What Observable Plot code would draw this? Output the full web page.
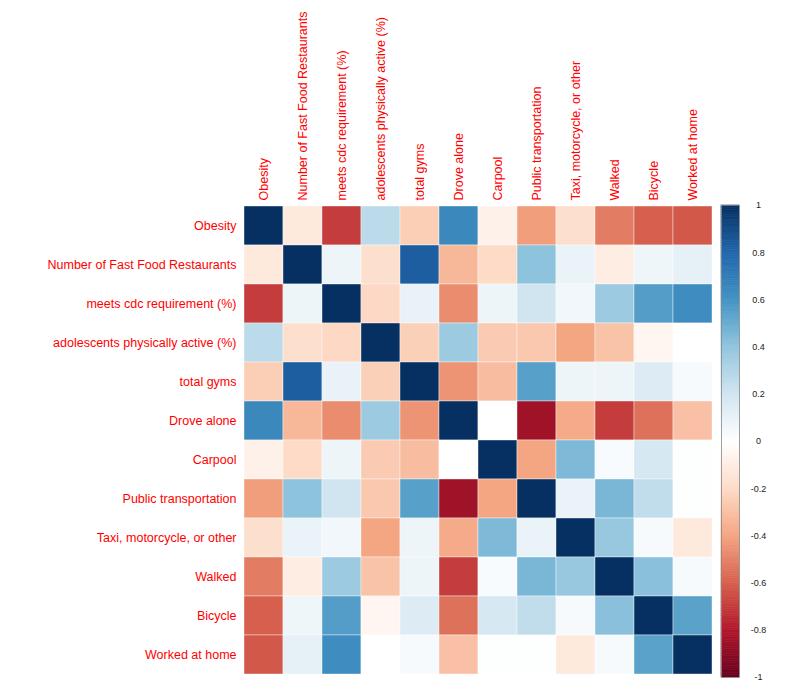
<!DOCTYPE html>
<html><head><meta charset="utf-8">
<script src="https://cdn.jsdelivr.net/npm/d3@7"></script>
<script src="https://cdn.jsdelivr.net/npm/@observablehq/plot@0.6"></script>
<style>
body{margin:0;background:#fff}
#wrap{position:relative;width:789px;height:690px}
#wrap svg{position:absolute;left:0;top:0}
</style>
</head><body><div id="wrap"></div>
<script>
const variables = ["Obesity","Number of Fast Food Restaurants","meets cdc requirement (%)","adolescents physically active (%)","total gyms","Drove alone","Carpool","Public transportation","Taxi, motorcycle, or other","Walked","Bicycle","Worked at home"];

const obesity      = [1, -0.12, -0.70, 0.27, -0.25, 0.65, -0.08, -0.42, -0.18, -0.52, -0.60, -0.62];
const fastFood     = [-0.12, 1, 0.08, -0.18, 0.83, -0.33, -0.20, 0.41, 0.09, -0.10, 0.07, 0.11];
const cdcReq       = [-0.70, 0.08, 1, -0.21, 0.10, -0.47, 0.08, 0.20, 0.06, 0.37, 0.56, 0.63];
const adolActive   = [0.27, -0.18, -0.21, 1, -0.24, 0.37, -0.26, -0.27, -0.40, -0.29, -0.05, 0.00];
const totalGyms    = [-0.25, 0.83, 0.10, -0.24, 1, -0.45, -0.31, 0.55, 0.08, 0.08, 0.15, 0.04];
const droveAlone   = [0.65, -0.33, -0.47, 0.37, -0.45, 1, 0.00, -0.85, -0.38, -0.70, -0.55, -0.30];
const carpool      = [-0.08, -0.20, 0.08, -0.26, -0.31, 0.00, 1, -0.40, 0.45, 0.03, 0.18, 0.01];
const publicTrans  = [-0.42, 0.41, 0.20, -0.27, 0.55, -0.85, -0.40, 1, 0.09, 0.46, 0.25, 0.01];
const taxiOther    = [-0.18, 0.09, 0.06, -0.40, 0.08, -0.38, 0.45, 0.09, 1, 0.38, 0.04, -0.12];
const walked       = [-0.52, -0.10, 0.37, -0.29, 0.08, -0.70, 0.03, 0.46, 0.38, 1, 0.42, 0.04];
const bicycle      = [-0.60, 0.07, 0.56, -0.05, 0.15, -0.55, 0.18, 0.25, 0.04, 0.42, 1, 0.54];
const workedHome   = [-0.62, 0.11, 0.63, 0.00, 0.04, -0.30, 0.01, 0.01, -0.12, 0.04, 0.54, 1];

const matrixRows = [obesity, fastFood, cdcReq, adolActive, totalGyms, droveAlone, carpool, publicTrans, taxiOther, walked, bicycle, workedHome];

const colorStops = [-1, -0.8, -0.6, -0.4, -0.2, 0, 0.2, 0.4, 0.6, 0.8, 1];
const rdbuColors = ["#67001F","#B2182B","#D6604D","#F4A582","#FDDBC7","#FFFFFF","#D1E5F0","#92C5DE","#4393C3","#2166AC","#053061"];

const cells = matrixRows.flatMap((row, i) => row.map((v, j) => ({row: variables[i], col: variables[j], value: v})));

const colorScale = {type: "linear", domain: colorStops, range: rdbuColors, interpolate: "rgb"};
const font = "'Liberation Sans', Arial, sans-serif";

const heat = Plot.plot({
  width: 789, height: 690,
  marginLeft: 242, marginRight: 76, marginTop: 206, marginBottom: 16,
  style: {fontFamily: font, background: "transparent"},
  x: {domain: variables, padding: 0},
  y: {domain: variables, padding: 0},
  color: colorScale,
  marks: [
    Plot.cell(cells, {x: "col", y: "row", fill: "value", stroke: "white", strokeWidth: 0.4}),
    Plot.axisX({anchor: "top", tickRotate: -90, tickSize: 0, tickPadding: 6, fill: "#f00", fontSize: 12.5, label: null}),
    Plot.axisY({anchor: "left", tickSize: 0, tickPadding: 6, fill: "#f00", fontSize: 12.5, label: null})
  ]
});

const barSteps = d3.range(-1, 1, 0.01).map(v => ({y1: v, y2: Math.min(1, v + 0.01), mid: v + 0.005}));
const bar = Plot.plot({
  width: 89, height: 500,
  marginLeft: 21, marginRight: 50, marginTop: 15, marginBottom: 13,
  style: {fontFamily: font, background: "transparent"},
  x: {domain: [0, 1], axis: null},
  y: {domain: [-1, 1]},
  color: colorScale,
  marks: [
    Plot.rect(barSteps, {x1: 0, x2: 1, y1: "y1", y2: "y2", fill: "mid", stroke: "mid", strokeWidth: 0.6}),
    Plot.frame({stroke: "#888", strokeWidth: 0.8}),
    Plot.axisY({anchor: "right", ticks: colorStops, tickSize: 3, tickPadding: 0, textAnchor: "middle", dx: 16, fontSize: 9, fill: "#222", stroke: null, tickFormat: d => String(d), label: null})
  ]
});
bar.style.left = "700px";
bar.style.top = "190px";

const wrap = document.getElementById("wrap");
wrap.appendChild(heat);
wrap.appendChild(bar);
</script>
</body></html>
